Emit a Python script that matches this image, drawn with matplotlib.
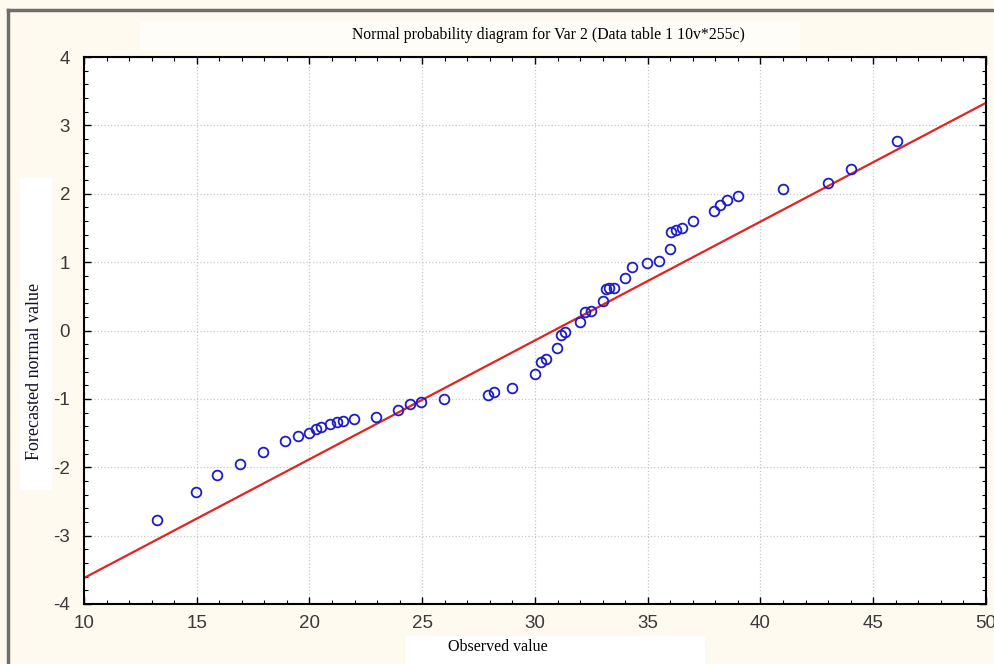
import matplotlib
matplotlib.use("Agg")
import matplotlib.pyplot as plt
from matplotlib.ticker import MultipleLocator
from matplotlib.patches import Rectangle
from matplotlib.lines import Line2D

plt.rcParams["axes.unicode_minus"] = False

# Data
observed = [13.24, 14.98, 15.91, 16.93, 17.96, 18.93, 19.47, 19.96, 20.27, 20.49,
            20.93, 21.2, 21.47, 21.96, 22.93, 23.91, 24.44, 24.93, 25.96, 27.9,
            28.2, 29.0, 30.0, 30.27, 30.5, 30.98, 31.16, 31.33, 32.0, 32.2,
            32.5, 33.0, 33.16, 33.3, 33.5, 34.0, 34.3, 34.98, 35.5, 36.0,
            36.04, 36.27, 36.53, 37.0, 37.96, 38.2, 38.5, 39.0, 41.0, 43.0,
            44.0, 46.04]
expected = [-2.77, -2.36, -2.11, -1.95, -1.78, -1.62, -1.54, -1.50, -1.44, -1.41,
            -1.37, -1.34, -1.32, -1.29, -1.26, -1.16, -1.07, -1.05, -1.00, -0.94,
            -0.90, -0.84, -0.64, -0.46, -0.42, -0.26, -0.07, -0.02, 0.12, 0.27,
            0.28, 0.43, 0.61, 0.62, 0.62, 0.77, 0.93, 0.99, 1.02, 1.19,
            1.44, 1.47, 1.50, 1.60, 1.75, 1.83, 1.91, 1.97, 2.07, 2.16,
            2.36, 2.77]
line_x = [10, 50]
line_y = [-3.62, 3.33]

title = "Normal probability diagram for Var 2 (Data table 1 10v*255c)"
xlabel = "Observed value"
ylabel = "Forecasted normal value"
xticks = [10, 15, 20, 25, 30, 35, 40, 45, 50]
yticks = [-4, -3, -2, -1, 0, 1, 2, 3, 4]

W, H = 995, 664
fig = plt.figure(figsize=(W / 100, H / 100), dpi=100)
fig.patch.set_facecolor("#FEFAF0")

# decorative white patches and border
for (x0, y0, w, h, c) in [(140, 22, 660, 28, "#FFFDF8"), (20, 178, 32, 312, "white"),
                          (405, 636, 300, 28, "white")]:
    fig.patches.append(Rectangle((x0 / W, 1 - (y0 + h) / H), w / W, h / H,
                                 transform=fig.transFigure, facecolor=c,
                                 edgecolor="none", zorder=0))
fig.lines.append(Line2D([8 / W, 1], [1 - 10 / H, 1 - 10 / H], transform=fig.transFigure,
                        color="#6E6E6E", linewidth=2.5))
fig.lines.append(Line2D([8 / W, 8 / W], [0, 1 - 10 / H], transform=fig.transFigure,
                        color="#6E6E6E", linewidth=2.5))

ax = fig.add_axes([84 / W, 60 / H, 902 / W, 547 / H])
ax.set_facecolor("white")
ax.plot(line_x, line_y, color="#E02424", linewidth=1.6, zorder=2)
ax.plot(observed, expected, linestyle="none", marker="o", markersize=7,
        markerfacecolor="none", markeredgecolor="#1C1CC8", markeredgewidth=1.3, zorder=3)

ax.set_xlim(10, 50)
ax.set_ylim(-4, 4)
ax.set_xticks(xticks)
ax.set_yticks(yticks)
ax.xaxis.set_minor_locator(MultipleLocator(1))
ax.yaxis.set_minor_locator(MultipleLocator(0.2))
ax.tick_params(which="both", direction="in", top=True, right=True, color="black")
ax.tick_params(which="major", length=5, width=1)
ax.tick_params(which="minor", length=3, width=0.8)
ax.tick_params(axis="both", which="major", labelsize=13.5, labelcolor="#3A3A3A")
ax.tick_params(axis="x", which="major", pad=8)
ax.tick_params(axis="y", which="major", pad=10)
for lab in ax.get_xticklabels() + ax.get_yticklabels():
    lab.set_family("Liberation Sans")
ax.grid(True, which="major", linestyle=":", color="#C8C8C8", linewidth=0.9)
for s in ax.spines.values():
    s.set_linewidth(1.5)
    s.set_color("black")

fig.text(548 / W, 1 - 35 / H, title, ha="center", va="center",
         family="Liberation Serif", fontsize=11.3, color="black")
fig.text(498 / W, 1 - 647 / H, xlabel, ha="center", va="center",
         family="Liberation Serif", fontsize=11.5, color="black")
fig.text(35 / W, 1 - 371 / H, ylabel, ha="center", va="center", rotation=90,
         family="Liberation Serif", fontsize=13, color="#101030")

fig.savefig("out.png", dpi=100, facecolor=fig.get_facecolor())
